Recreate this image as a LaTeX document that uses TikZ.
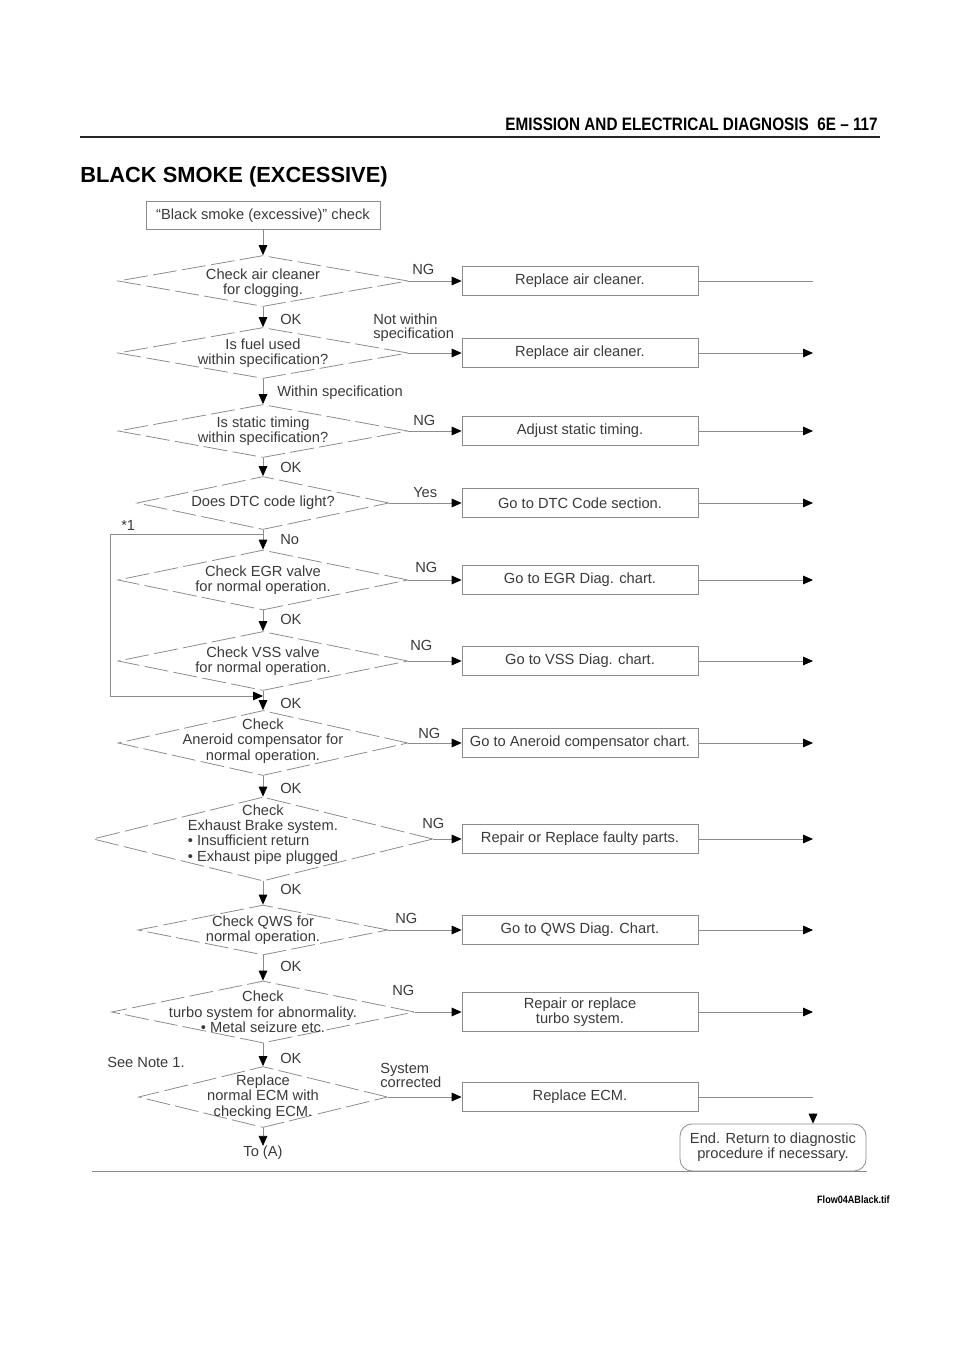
\documentclass[tikz,border=0pt]{standalone}
\usepackage{fontspec}
\setmainfont{Liberation Sans}
\newfontfamily\hdrfont[FakeStretch=0.85]{Liberation Sans}
\usetikzlibrary{arrows.meta,shapes.geometric,positioning}
\definecolor{linegray}{HTML}{8C8C8C}
\definecolor{inkgray}{HTML}{3A3A3A}
\newlength\pxu
\setlength\pxu{0.75pt}

\begin{document}
\begin{tikzpicture}[
  x=0.75pt,y=-0.75pt,
  >={Triangle[length=7.5pt,width=6.5pt,color=black]},
  every node/.style={font=\fontsize{11}{11.5}\selectfont},
  flow/.style={draw=linegray,line width=0.6pt,->},
  plain/.style={draw=linegray,line width=0.6pt},
  decision/.style={diamond,draw=linegray,line width=0.6pt,
    dash pattern=on 18pt off 4pt,inner sep=0pt},
  actbox/.style={rectangle,draw=linegray,line width=0.6pt,inner sep=0pt,
    minimum width=236\pxu,minimum height=29\pxu,align=center,text=inkgray},
  dtext/.style={align=center,text=inkgray},
  tag/.style={text=inkgray,inner sep=0pt,align=left}
]
  \useasboundingbox (0,0) rectangle (960,1358);

  % page head
  \node[anchor=base east,inner sep=0pt,
    font=\hdrfont\bfseries\fontsize{13.5}{14}\selectfont] (pagehead) at (878,131)
    {EMISSION AND ELECTRICAL DIAGNOSIS\ \ 6E – 117};
  \draw[line width=1.5pt,black!85] (80,137) -- (880,137);
  \node[anchor=base west,inner sep=0pt,
    font=\bfseries\fontsize{16.4}{18}\selectfont] (title) at (80,183)
    {BLACK SMOKE (EXCESSIVE)};

  % start
  \node[actbox,minimum width=234\pxu,minimum height=28\pxu] (start) at (263,215.5)
    {“Black smoke (excessive)” check};

  % decisions
  \node[decision,minimum width=290\pxu,minimum height=51\pxu] (d1) at (263,281) {};
  \node[dtext] (t1) at (263,283) {Check air cleaner\\for clogging.};
  \node[decision,minimum width=290\pxu,minimum height=51\pxu] (d2) at (263,353) {};
  \node[dtext] (t2) at (d2) {Is fuel used\\within specification?};
  \node[decision,minimum width=290\pxu,minimum height=53\pxu] (d3) at (263,431) {};
  \node[dtext] (t3) at (d3) {Is static timing\\within specification?};
  \node[decision,minimum width=252\pxu,minimum height=53\pxu] (d4) at (263,503) {};
  \node[dtext] (t4) at (d4) {Does DTC code light?};
  \node[decision,minimum width=290\pxu,minimum height=60\pxu] (d5) at (263,580) {};
  \node[dtext] (t5) at (d5) {Check EGR valve\\for normal operation.};
  \node[decision,minimum width=290\pxu,minimum height=59\pxu] (d6) at (263,661) {};
  \node[dtext] (t6) at (d6) {Check VSS valve\\for normal operation.};
  \node[decision,minimum width=290\pxu,minimum height=65\pxu] (d7) at (263,743) {};
  \node[dtext] (t7) at (263,741) {Check\\Aneroid compensator for\\normal operation.};
  \node[decision,minimum width=340\pxu,minimum height=84\pxu] (d8) at (263,839) {};
  \node[dtext] (t8) at (263,835) {Check\\\begin{tabular}[t]{@{}l@{}}Exhaust Brake system.\\%
    • Insufficient return\\• Exhaust pipe plugged\end{tabular}};
  \node[decision,minimum width=250\pxu,minimum height=50\pxu] (d9) at (263,930) {};
  \node[dtext] (t9) at (d9) {Check QWS for\\normal operation.};
  \node[decision,minimum width=303\pxu,minimum height=62\pxu] (d10) at (263,1012) {};
  \node[dtext] (t10) at (d10) {Check\\turbo system for abnormality.\\• Metal seizure etc.};
  \node[decision,minimum width=249\pxu,minimum height=61\pxu] (d11) at (263,1097) {};
  \node[dtext] (t11) at (d11) {Replace\\normal ECM with\\checking ECM.};

  % actions
  \node[actbox] (b1) at (580,281) {Replace air cleaner.};
  \node[actbox] (b2) at (580,353) {Replace air cleaner.};
  \node[actbox] (b3) at (580,431) {Adjust static timing.};
  \node[actbox] (b4) at (580,503) {Go to DTC Code section.};
  \node[actbox] (b5) at (580,580) {Go to EGR Diag. chart.};
  \node[actbox] (b6) at (580,661) {Go to VSS Diag. chart.};
  \node[actbox] (b7) at (580,743) {Go to Aneroid compensator chart.};
  \node[actbox] (b8) at (580,839) {Repair or Replace faulty parts.};
  \node[actbox] (b9) at (580,930) {Go to QWS Diag. Chart.};
  \node[actbox,minimum height=39\pxu] (b10) at (580,1012) {Repair or replace\\turbo system.};
  \node[actbox] (b11) at (580,1097) {Replace ECM.};
  \node[actbox,rounded corners=9pt,minimum width=186\pxu,minimum height=47\pxu] (endbox)
    at (773,1147.5) {End. Return to diagnostic\\procedure if necessary.};
  \node[tag] (toa) at (263,1153) {To (A)};

  % main line
  \draw[flow] (start) -- (d1);
  \draw[flow] (d1) -- (d2);
  \draw[flow] (d2) -- (d3);
  \draw[flow] (d3) -- (d4);
  \draw[flow] (d4) -- (d5);
  \draw[flow] (d5) -- (d6);
  \draw[flow] (d6) -- (d7);
  \draw[flow] (d7) -- (d8);
  \draw[flow] (d8) -- (d9);
  \draw[flow] (d9) -- (d10);
  \draw[flow] (d10) -- (d11);
  \draw[flow] (d11) -- (toa);

  % branches
  \draw[flow] (d1.east) -- (b1.west);
  \draw[flow] (d2.east) -- (b2.west);
  \draw[flow] (d3.east) -- (b3.west);
  \draw[flow] (d4.east) -- (b4.west);
  \draw[flow] (d5.east) -- (b5.west);
  \draw[flow] (d6.east) -- (b6.west);
  \draw[flow] (d7.east) -- (b7.west);
  \draw[flow] (d8.east) -- (b8.west);
  \draw[flow] (d9.east) -- (b9.west);
  \draw[flow] (d10.east) -- (b10.west);
  \draw[flow] (d11.east) -- (b11.west);

  % right hand exits
  \coordinate (rend) at (813,0);
  \draw[plain] (b1.east) -- (b1.east -| rend);
  \draw[flow] (b2.east) -- (b2.east -| rend);
  \draw[flow] (b3.east) -- (b3.east -| rend);
  \draw[flow] (b4.east) -- (b4.east -| rend);
  \draw[flow] (b5.east) -- (b5.east -| rend);
  \draw[flow] (b6.east) -- (b6.east -| rend);
  \draw[flow] (b7.east) -- (b7.east -| rend);
  \draw[flow] (b8.east) -- (b8.east -| rend);
  \draw[flow] (b9.east) -- (b9.east -| rend);
  \draw[flow] (b10.east) -- (b10.east -| rend);
  \draw[plain] (b11.east) -- (b11.east -| rend);
  \coordinate (edrop) at (813,1113);
  \draw[flow] (edrop) -- (edrop |- endbox.north);

  % *1 loop
  \coordinate (lpa) at (110,534);
  \coordinate (lpb) at (110,696);
  \draw[flow] (d4.south |- lpa) -- (lpa) -- (lpb) -- (lpb -| d6.south);

  % labels
  \node[tag,anchor=west] (ng1) at (412,269) {NG};
  \node[tag,anchor=west] (ok1) at (280,319) {OK};
  \node[tag,anchor=west,font=\fontsize{11}{10.5}\selectfont] (nw2) at (373,328)
    {Not within\\specification};
  \node[tag,anchor=west] (ws2) at (277,393) {Within specification};
  \node[tag,anchor=west] (ng3) at (413,420) {NG};
  \node[tag,anchor=west] (ok3) at (280,467) {OK};
  \node[tag,anchor=west] (yes4) at (413,493) {Yes};
  \node[tag,anchor=west] (star1) at (121,525) {*1};
  \node[tag,anchor=west] (no4) at (280,540) {No};
  \node[tag,anchor=west] (ng5) at (415,567) {NG};
  \node[tag,anchor=west] (ok5) at (280,619) {OK};
  \node[tag,anchor=west] (ng6) at (410,645) {NG};
  \node[tag,anchor=west] (ok6) at (280,703) {OK};
  \node[tag,anchor=west] (ng7) at (418,733) {NG};
  \node[tag,anchor=west] (ok7) at (280,788) {OK};
  \node[tag,anchor=west] (ng8) at (422,823) {NG};
  \node[tag,anchor=west] (ok8) at (280,889) {OK};
  \node[tag,anchor=west] (ng9) at (395,918) {NG};
  \node[tag,anchor=west] (ok9) at (280,966) {OK};
  \node[tag,anchor=west] (ng10) at (392,990) {NG};
  \node[tag,anchor=west] (ok10) at (280,1058) {OK};
  \node[tag,anchor=west] (note1) at (107,1062) {See Note 1.};
  \node[tag,anchor=west,font=\fontsize{11}{10.5}\selectfont] (sc11) at (380,1075)
    {System\\corrected};

  % bottom rule and file name
  \draw[plain] (92,1171) -- (867,1171);
  \node[anchor=base east,inner sep=0pt,
    font=\hdrfont\bfseries\fontsize{8}{9}\selectfont] (fname) at (890,1203)
    {Flow04ABlack.tif};
\end{tikzpicture}
\end{document}
